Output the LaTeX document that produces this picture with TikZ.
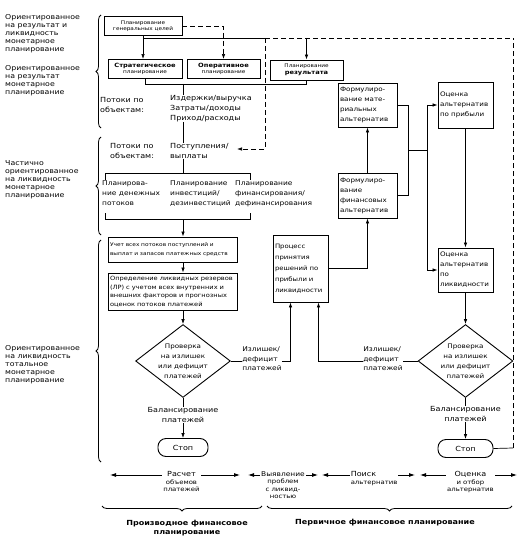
\documentclass[tikz,border=0pt]{standalone}
\usepackage{fontspec}
\setmainfont{DejaVu Sans}[FakeStretch=1.15]
\usetikzlibrary{arrows.meta,shapes.geometric,decorations.pathreplacing,calc}

\begin{document}
\begin{tikzpicture}[x=1pt,y=-1pt,
box/.style={draw, line width=0.9pt, inner sep=1.5pt, align=left, font=\fontsize{6.2}{10}\selectfont},
topbox/.style={draw, line width=0.9pt, minimum height=19pt, inner sep=0pt, align=center, font=\fontsize{5}{6.5}\selectfont},
wide/.style={draw, line width=0.9pt, inner sep=2pt, text width=125pt, align=left, font=\fontsize{5.1}{8.5}\selectfont},
check/.style={draw, line width=0.9pt, diamond, aspect=1.3, minimum width=93pt, minimum height=72pt, inner sep=0pt, align=center, font=\fontsize{6.2}{10}\selectfont},
stopbox/.style={draw, line width=0.9pt, rounded corners=8pt, minimum width=50pt, minimum height=18pt, font=\fontsize{7}{8}\selectfont},
txt/.style={align=left, inner sep=0pt, font=\fontsize{7}{10}\selectfont},
side/.style={anchor=north west, align=left, inner sep=0pt, font=\fontsize{6.8}{8}\selectfont},
lbl/.style={fill=white, inner sep=1pt, align=center, anchor=north, yshift=5pt, font=\fontsize{6}{7.5}\selectfont},
bold/.style={align=center, font=\fontsize{7}{9}\selectfont\bfseries},
ln/.style={line width=0.7pt},
dashln/.style={line width=0.7pt, dash pattern=on 5pt off 3pt},
arr/.style={-{Latex[length=5pt,width=3.5pt]}, line width=0.7pt},
darr/.style={{Latex[length=6pt,width=4pt]}-{Latex[length=6pt,width=4pt]}, line width=0.8pt},
brc/.style={decorate, decoration={brace, amplitude=5pt}, line width=0.8pt}
]
\useasboundingbox (0,0) rectangle (525,540);

% left column
\node[side] (labA) at (5,14) {Ориентированное\\на результат и\\ликвидность\\монетарное\\планирование};
\node[side] (labB) at (5,65) {Ориентированное\\на результат\\монетарное\\планирование};
\node[side] (labC) at (5,160) {Частично\\ориентированное\\на ликвидность\\монетарное\\планирование};
\node[side] (labD) at (5,345) {Ориентированное\\на ликвидность\\тотальное\\монетарное\\планирование};

\draw[brc] (101,128) -- (101,15);
\draw[brc] (101,235) -- (101,137);
\draw[brc] (101,462) -- (101,240);

% planning levels
\node[topbox, minimum width=78pt] (goals) at (143,26) {Планирование\\генеральных целей};
\node[topbox, minimum width=74pt] (strat) at (145,69) {\textbf{\fontsize{5.8}{7}\selectfont Стратегическое}\\планирование};
\node[topbox, minimum width=73pt] (oper) at (223.5,69) {\textbf{\fontsize{5.8}{7}\selectfont Оперативное}\\планирование};
\node[topbox, minimum width=73pt, minimum height=20pt] (result) at (306.5,70) {Планирование\\\textbf{\fontsize{5.8}{7}\selectfont результата}};

\coordinate (spine) at (183,0);
\coordinate (split) at (143,38);
\coordinate (mid) at (265,38);
\coordinate (tr) at (513,38);
\coordinate (br) at (513,448);
\coordinate (dIn) at (237,149);

\draw[arr] (goals.south) -- (goals.south |- strat.north);
\draw[ln] (split) -- (mid);
\draw[arr] (split -| result) -- (result.north);
\draw[dashln, arr] (goals.east) -| (oper.north);
\draw[dashln] (mid) -- (tr);
\draw[dashln, arr] (mid) |- (dIn);

% flows
\node[txt, anchor=north west] (objA) at (100,97) {Потоки по\\объектам:};
\node[txt, anchor=north west] (flowsA) at (170,95) {Издержки/выручка\\Затраты/доходы\\Приход/расходы};
\node[txt, anchor=north west] (objB) at (110,143) {Потоки по\\объектам:};
\node[txt, anchor=north west] (flowsB) at (170,143) {Поступления/\\выплаты};

\draw[ln] (strat.south) -- ++(0,5) coordinate (brk) -| (result.south);
\draw[ln] (brk -| spine) -- (flowsA.north -| spine);
\draw[ln] (flowsA.south -| spine) -- (flowsB.north -| spine);
\draw[ln] (flowsB.south -| spine) -- (183,173);

\node[txt, anchor=north west, font=\fontsize{6.5}{10}\selectfont] (planA) at (102,181) {Планирова-\\ние денежных\\потоков};
\node[txt, anchor=north west, font=\fontsize{6.5}{10}\selectfont] (planB) at (170,181) {Планирование\\инвестиций/\\дезинвестиций};
\node[txt, anchor=north west, font=\fontsize{6.5}{10}\selectfont] (planC) at (235,181) {Планирование\\финансирования/\\дефинансирования};

\draw[ln] (105,180) -- (105,173) -- (250,173) -- (250,180);
\draw[ln] (105,213) -- (105,219) -- (250,219) -- (250,213);

% liquidity planning
\node[wide, minimum height=25pt] (uchet) at (172.5,249.5) {Учет всех потоков поступлений и\\выплат и запасов платежных средств};
\node[wide, minimum height=37pt, font=\fontsize{5.8}{8.5}\selectfont] (opred) at (172.5,291.5) {Определение ликвидных резервов\\(ЛР) с учетом всех внутренних и\\внешних факторов и прогнозных\\оценок потоков платежей};
\draw[arr] (183,219) -- (uchet.north -| spine);
\draw[arr] (uchet.south -| spine) -- (opred.north -| spine);

\node[check] (dL) at (183,361) {Проверка\\на излишек\\или дефицит\\платежей};
\draw[arr] (opred.south -| dL) -- (dL.north);
\node[txt, font=\fontsize{6.5}{9.5}\selectfont] (exL) at (262,359) {Излишек/\\дефицит\\платежей};
\node[txt, align=center] (balL) at (183,415) {Балансирование\\платежей};
\node[stopbox] (stopL) at (183,447.5) {Стоп};
\draw[ln] (dL.south) -- (balL.north);
\draw[arr] (balL.south) -- (stopL.north);

% decision process
\node[box, minimum width=55pt, minimum height=67pt, text width=51pt, font=\fontsize{6}{11}\selectfont] (proc) at (300.5,268.5) {Процесс\\принятия\\решений по\\прибыли и\\ликвидности};
\draw[ln] (dL.east) -- (exL.west |- dL.east);
\draw[arr] (exL.east |- dL.east) -| ($(proc.south)+(-10,0)$);

% alternatives
\node[box, minimum width=59pt, minimum height=44pt, text width=55pt] (mat) at (367.5,105) {Формулиро-\\вание мате-\\риальных\\альтернатив};
\node[box, minimum width=59pt, minimum height=45pt, text width=55pt] (fin) at (367.5,195.5) {Формулиро-\\вание\\финансовых\\альтернатив};
\node[box, minimum width=55pt, minimum height=46pt, text width=51pt] (evP) at (465.5,105) {Оценка\\альтернатив\\по прибыли};
\node[box, minimum width=55pt, minimum height=44pt, text width=51pt] (evL) at (465.5,270) {Оценка\\альтернатив\\по\\ликвидности};

\coordinate (j1) at (408,0);
\coordinate (j2) at (427,0);
\draw[arr] (proc.east) -| (fin.south);
\draw[arr] (fin.north) -- (mat.south);
\draw[ln] (mat.east) -- (mat.east -| j1) -- (fin.east -| j1) -- (fin.east);
\draw[ln] (408,150) -- (427,150);
\draw[ln] (evP.west -| j2) -- (evL.west -| j2);
\draw[arr] (evP.west -| j2) -- (evP.west);
\draw[arr] (evL.west -| j2) -- (evL.west);
\draw[arr] (evP.south) -- (evL.north);

\node[check] (dR) at (465.5,361) {Проверка\\на излишек\\или дефицит\\платежей};
\draw[arr] (evL.south) -- (dR.north);
\node[txt, font=\fontsize{6.5}{9.5}\selectfont] (exR) at (383,359) {Излишек/\\дефицит\\платежей};
\draw[ln] (dR.west) -- (exR.east |- dR.west);
\draw[arr] (exR.west |- dR.west) -| ($(proc.south)+(18,0)$);
\node[txt, align=center] (balR) at (465.5,414) {Балансирование\\платежей};
\node[stopbox, minimum width=55pt] (stopR) at (465.5,448.5) {Стоп};
\draw[ln] (dR.south) -- (balR.north);
\draw[arr] (balR.south) -- (stopR.north);
\draw[ln] (stopR.east) -- (br);
\draw[dashln] (br) -- (tr);

% phases
\coordinate (pA1) at (110,475); \coordinate (pA2) at (240,475);
\coordinate (pB1) at (248,475); \coordinate (pB2) at (318,475);
\coordinate (pC1) at (322,475); \coordinate (pC2) at (415,475);
\coordinate (pD1) at (420,475); \coordinate (pD2) at (517,475);
\draw[darr] (pA1) -- node[lbl, pos=0.55] (phA) {{\fontsize{7}{8}\selectfont Расчет}\\объемов\\платежей} (pA2);
\draw[darr] (pB1) -- node[lbl, pos=0.5] (phB) {{\fontsize{6.5}{8}\selectfont Выявление}\\проблем\\с ликвид-\\ностью} (pB2);
\draw[darr] (pC1) -- node[lbl, pos=0.56, align=left] (phC) {{\fontsize{7}{8}\selectfont Поиск}\\альтернатив} (pC2);
\draw[darr] (pD1) -- node[lbl, pos=0.52] (phD) {{\fontsize{7}{8}\selectfont Оценка}\\и отбор\\альтернатив} (pD2);

\draw[brc] (262,506) -- (102,506);
\draw[brc] (512,506) -- (267,506);
\node[bold] (derived) at (187,528) {Производное финансовое\\планирование};
\node[bold] (primary) at (385,523) {Первичное финансовое планирование};
\end{tikzpicture}
\end{document}
